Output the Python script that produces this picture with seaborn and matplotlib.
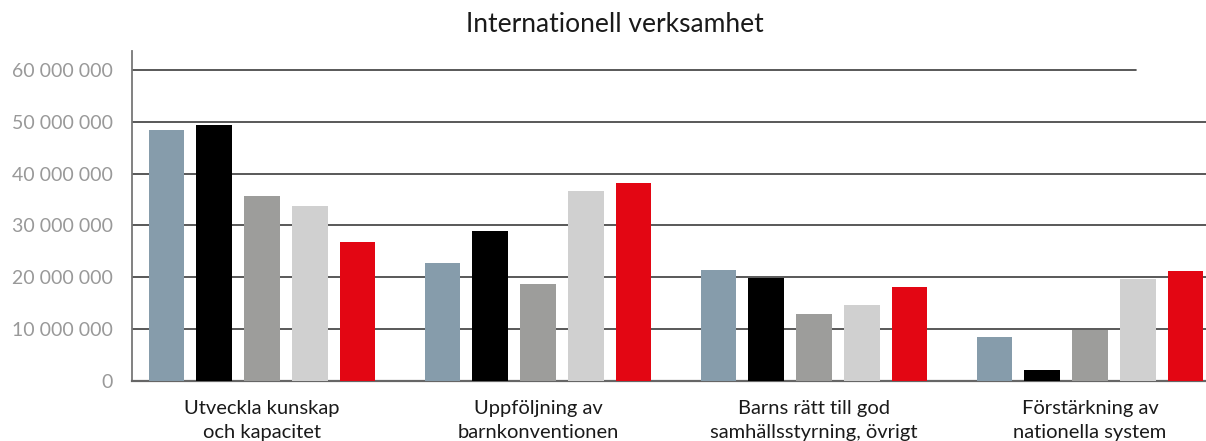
import matplotlib
matplotlib.use("Agg")
import matplotlib.pyplot as plt
from matplotlib.ticker import FuncFormatter
import pandas as pd
import seaborn as sns

# Category labels (two-line) and series values in SEK
categories = [
    "Utveckla kunskap\noch kapacitet",
    "Uppföljning av\nbarnkonventionen",
    "Barns rätt till god\nsamhällsstyrning, övrigt",
    "Förstärkning av\nnationella system",
]
series_names = ["serie_1", "serie_2", "serie_3", "serie_4", "serie_5"]
serie_1 = [48_500_000, 22_700_000, 21_400_000, 8_400_000]
serie_2 = [49_300_000, 28_900_000, 19_800_000, 2_000_000]
serie_3 = [35_700_000, 18_700_000, 12_900_000, 9_700_000]
serie_4 = [33_800_000, 36_700_000, 14_600_000, 19_600_000]
serie_5 = [26_800_000, 38_200_000, 18_100_000, 21_200_000]
y_ticks = [0, 10_000_000, 20_000_000, 30_000_000, 40_000_000, 50_000_000, 60_000_000]
title = "Internationell verksamhet"

palette = ["#869CAB", "#000000", "#9D9D9B", "#D0D0D0", "#E30613"]

values = [serie_1, serie_2, serie_3, serie_4, serie_5]
rows = []
for name, vals in zip(series_names, values):
    for cat, v in zip(categories, vals):
        rows.append({"kategori": cat, "serie": name, "belopp": v})
df = pd.DataFrame(rows)

sns.set_theme(style="white")
plt.rcParams["font.family"] = ["Lato", "DejaVu Sans"]

fig = plt.figure(figsize=(12.06, 4.41), dpi=100)
ax = fig.add_axes([132 / 1206, 1 - 380.5 / 441, 1 - 132 / 1206, (380.5 - 51) / 441])

sns.barplot(
    data=df, x="kategori", y="belopp", hue="serie", order=categories,
    hue_order=series_names, palette=palette, width=0.865, gap=0.25,
    saturation=1, legend=False, ax=ax, zorder=3, linewidth=0, edgecolor="none",
)

ax.set_ylim(0, 63.7e6)
ax.set_xlim(-0.471, 3.42)
ax.set_yticks(y_ticks)
ax.yaxis.set_major_formatter(FuncFormatter(lambda v, _: f"{int(v):,}".replace(",", " ")))

# Horizontal gridlines; the top one stops short of the right edge
for t in y_ticks[1:]:
    xmax = 0.935 if t == y_ticks[-1] else 1.0
    ax.axhline(t, xmin=0, xmax=xmax, color="#3c3c3c", lw=1.2, zorder=1)

ax.set_xlabel("")
ax.set_ylabel("")
ax.tick_params(axis="y", length=0, pad=14, labelsize=14, labelcolor="#999999")
ax.tick_params(axis="x", length=0, pad=14, labelsize=14.5, labelcolor="#1a1a1a")
for lbl in ax.get_xticklabels():
    lbl.set_linespacing(1.5)

for side in ["top", "right"]:
    ax.spines[side].set_visible(False)
ax.spines["left"].set_color("#777777")
ax.spines["left"].set_linewidth(1.3)
ax.spines["bottom"].set_color("#666666")
ax.spines["bottom"].set_linewidth(1.6)

fig.text(615 / 1206, 1 - 25 / 441, title, ha="center", va="center",
         fontsize=19, color="#1a1a1a")

fig.savefig("out.png", dpi=100)
